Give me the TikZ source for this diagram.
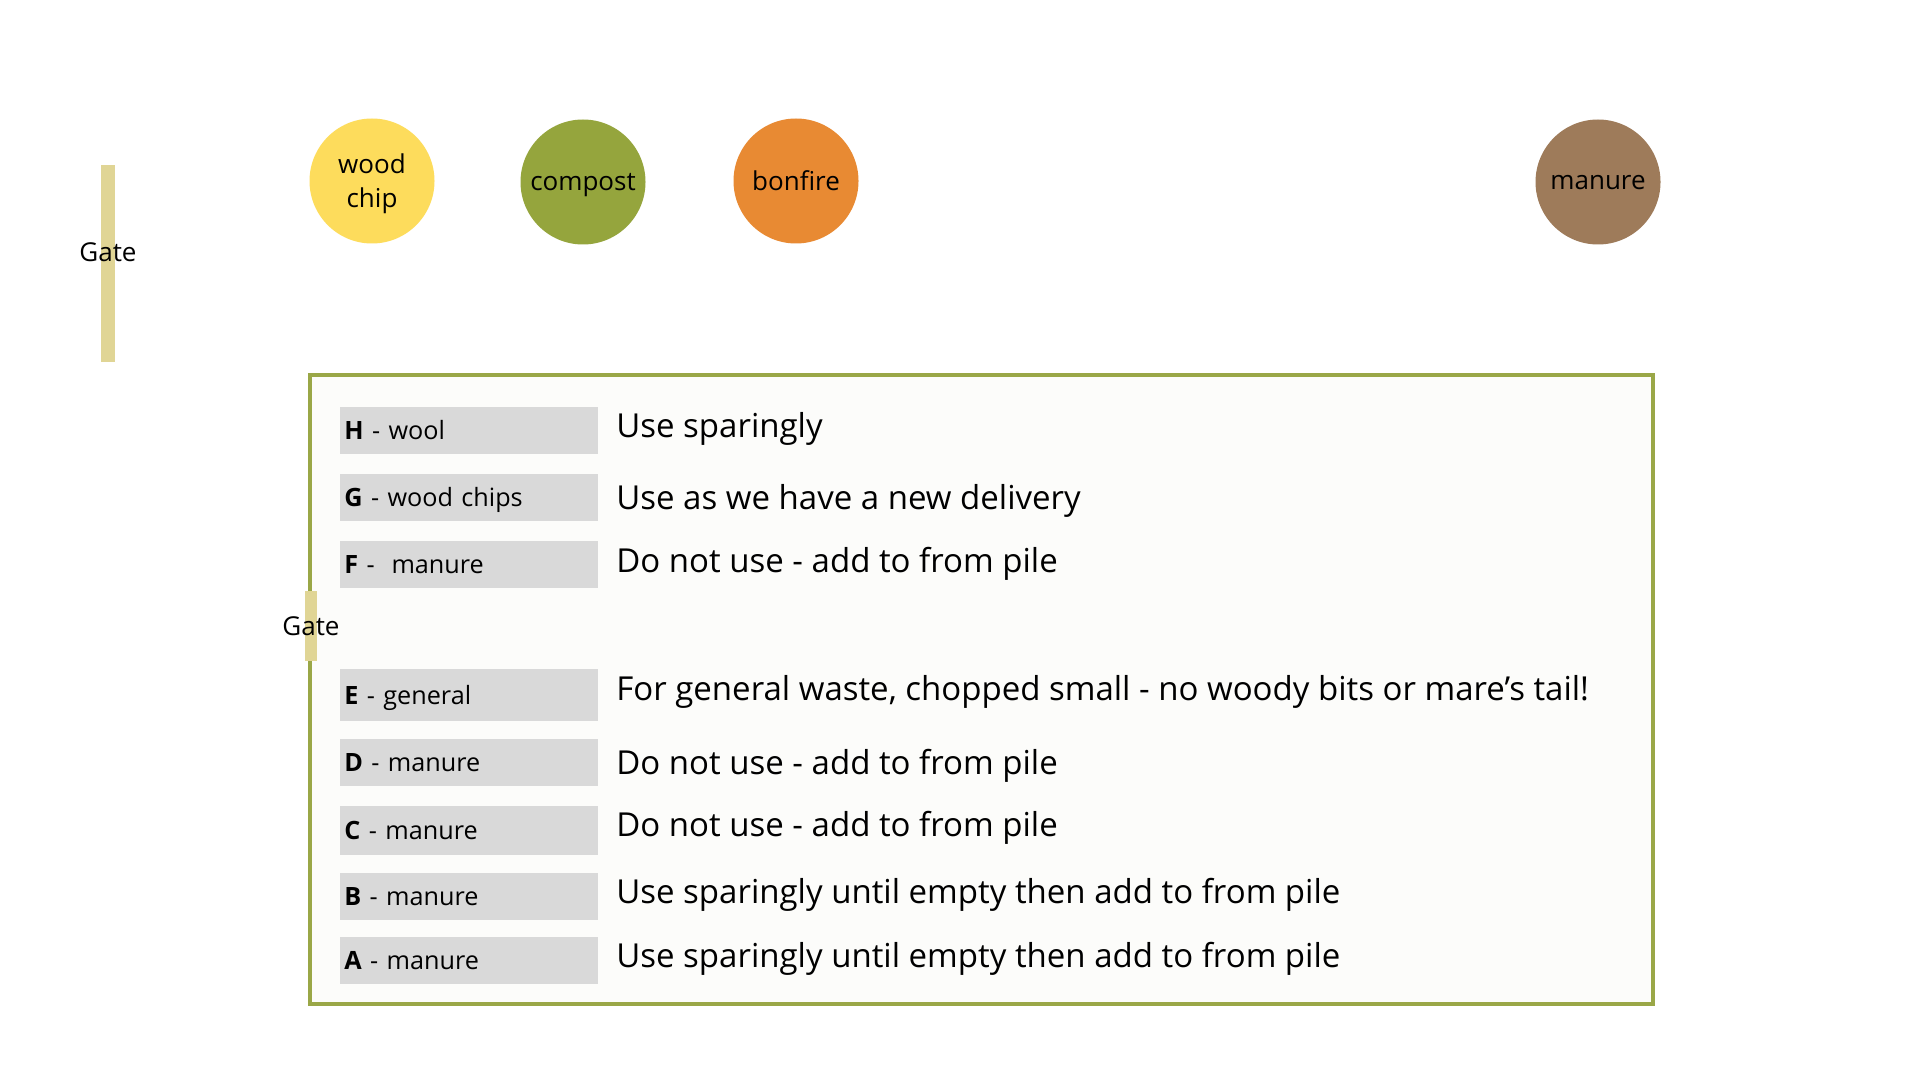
\documentclass[tikz,border=0pt]{standalone}
\usepackage{fontspec}
\setmainfont{Open Sans}
\usepackage{tikz}
\usetikzlibrary{shapes.geometric, positioning}

\definecolor{chipYellow}{HTML}{FDDC5C}
\definecolor{compostGreen}{HTML}{95A53D}
\definecolor{fireOrange}{HTML}{E88A33}
\definecolor{manureBrown}{HTML}{9E7B5A}
\definecolor{gateTan}{HTML}{E0D595}
\definecolor{yardGreen}{HTML}{9AA747}
\definecolor{binGray}{HTML}{D9D9D9}
\definecolor{yardFill}{HTML}{FCFCFA}

\begin{document}
\begin{tikzpicture}[
    x=0.5pt, y=-0.5pt,
    heap/.style={
        circle,
        minimum size=62.5pt,
        inner sep=0pt,
        align=center,
        text depth=0pt,
        font=\fontsize{13}{17}\selectfont
    },
    gatebar/.style={fill=gateTan, draw=none},
    gatetext/.style={font=\fontsize{13}{15}\selectfont, inner sep=0pt},
    bin/.style={
        fill=binGray,
        anchor=west,
        minimum height=23.5pt,
        text width=125pt,
        text height=9.5pt,
        text depth=0.5pt,
        inner xsep=2pt,
        align=left,
        font=\fontsize{12.6}{15}\selectfont
    },
    note/.style={anchor=west, inner sep=0pt, font=\fontsize{16.5}{20}\selectfont}
]

\useasboundingbox[fill=white] (0,0) rectangle (1920,1080);

% the heaps along the top
\node[heap, fill=chipYellow] (chip) at (372,181) {wood\\chip};
\node[heap, fill=compostGreen] (compost) at (583,182) {compost};
\node[heap, fill=fireOrange] (bonfire) at (796,181) {bonfire};
\node[heap, fill=manureBrown] (manure) at (1598,182) {manure};

% first gate
\fill[gatebar] (100.5,165) rectangle (115,362);
\node[gatetext] (gate1) at (108,252) {Gate};

% the yard
\draw[yardGreen, line width=2pt, fill=yardFill] (310,375) rectangle (1653,1004);

% second gate
\fill[gatebar] (305,591) rectangle (317,661);
\node[gatetext] (gate2) at (311,626) {Gate};

% bins and what to do with them
\node[bin] (H) at (340,430) {\textbf{H} - wool};
\node[bin] (G) at (340,497) {\textbf{G} - wood chips};
\node[bin] (F) at (340,564) {\textbf{F} -~ manure};
\node[bin, minimum height=26pt] (E) at (340,695) {\textbf{E} - general};
\node[bin] (D) at (340,762) {\textbf{D} - manure};
\node[bin, minimum height=24.5pt] (C) at (340,830) {\textbf{C} - manure};
\node[bin] (B) at (340,896) {\textbf{B} - manure};
\node[bin] (A) at (340,960) {\textbf{A} - manure};

\node[note] (Hnote) at (616,429) {Use sparingly};
\node[note] (Gnote) at (616,501) {Use as we have a new delivery};
\node[note] (Fnote) at (616,564) {Do not use - add to from pile};
\node[note] (Enote) at (616,692) {For general waste, chopped small - no woody bits or mare’s tail!};
\node[note] (Dnote) at (616,766) {Do not use - add to from pile};
\node[note] (Cnote) at (616,828) {Do not use - add to from pile};
\node[note] (Bnote) at (616,895) {Use sparingly until empty then add to from pile};
\node[note] (Anote) at (616,959) {Use sparingly until empty then add to from pile};

\end{tikzpicture}
\end{document}
